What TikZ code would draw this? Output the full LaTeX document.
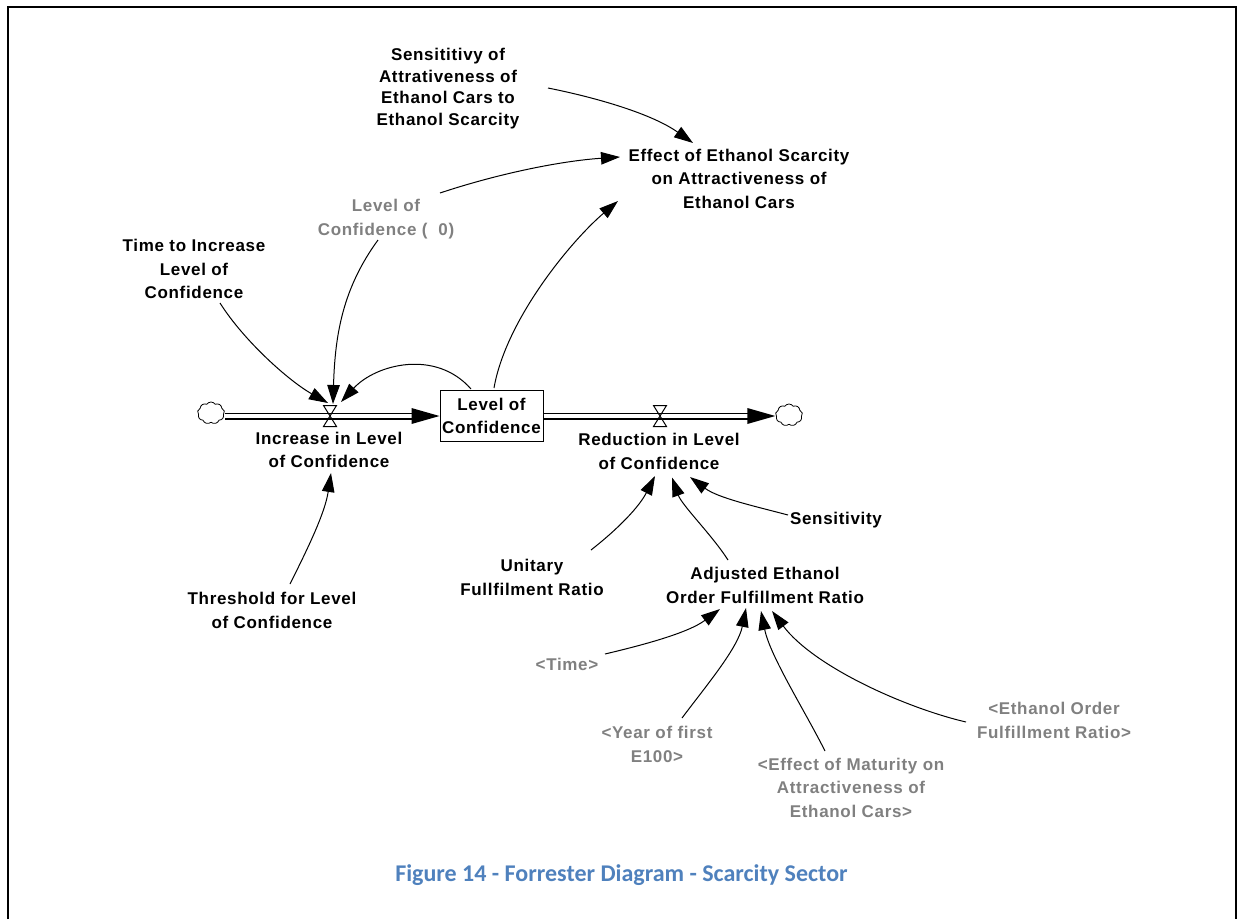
\documentclass[tikz,border=0pt]{standalone}
\usepackage{fontspec}
\usetikzlibrary{arrows.meta,shapes.symbols}
\newfontfamily\vfont{Liberation Sans}[LetterSpace=4]
\newfontfamily\capfont{Carlito}
\definecolor{vgray}{RGB}{128,128,128}
\definecolor{capblue}{RGB}{79,129,189}

\begin{document}
\begin{tikzpicture}[x=1pt,y=-1pt,
  var/.style={font=\vfont\bfseries\fontsize{17}{23.5}\selectfont, align=center, inner sep=0pt},
  gvar/.style={var, text=vgray},
  conn/.style={line width=1pt, -{Triangle[length=19pt,width=12.5pt]}},
  stockbox/.style={var, draw, line width=1pt, minimum width=103pt, minimum height=51pt},
  pipe/.style={double, double distance=4.8pt, line width=1.1pt},
  valve/.style={line width=1pt, line join=miter},
  source/.style={cloud, cloud puffs=9, cloud puff arc=110, draw, line width=0.8pt,
                 minimum width=27pt, minimum height=22pt, inner sep=0pt},
  frame/.style={line width=2.3pt}]

\useasboundingbox (0,0) rectangle (1237,919);

% open frame around the figure
\draw[frame] (8,919) -- (8,7) -- (1236,7) -- (1236,919);

% variables
\node[var, font=\vfont\bfseries\fontsize{17}{21.7}\selectfont] (sens) at (448,88.5)
  {Sensititivy of\\Attrativeness of\\Ethanol Cars to\\Ethanol Scarcity};
\node[var] (eff) at (739,178.5) {Effect of Ethanol Scarcity\\on Attractiveness of\\Ethanol Cars};
\node[gvar] (lc0) at (386,219) {Level of\\Confidence (\ \ 0)};
\node[var] (tinc) at (194,269) {Time to Increase\\Level of\\Confidence};
\node[stockbox] (stock) at (491.5,416) {Level of\\Confidence};
\node[var] (linc) at (329,450) {Increase in Level\\of Confidence};
\node[var] (lred) at (659,451.5) {Reduction in Level\\of Confidence};
\node[var] (sensy) at (836,520) {Sensitivity};
\node[var] (unit) at (532,577.5) {Unitary\\Fullfilment Ratio};
\node[var] (adj) at (765,585.5) {Adjusted Ethanol\\Order Fulfillment Ratio};
\node[var] (thr) at (272,610.5) {Threshold for Level\\of Confidence};
\node[gvar] (ttime) at (567,664) {<Time>};
\node[gvar] (year) at (657,744.5) {<Year of first\\E100>};
\node[gvar] (emat) at (851,787.5) {<Effect of Maturity on\\Attractiveness of\\Ethanol Cars>};
\node[gvar] (eord) at (1054,720.5) {<Ethanol Order\\Fulfillment Ratio>};

% sources / sinks
\node[source] (cl1) at (211,413) {};
\node[source] (cl2) at (789,415) {};

% flow pipes
\draw[pipe, shorten >=27pt] (cl1.east |- stock.west) -- (stock.west);
\fill ([shift={(-28,-8)}]stock.west) -- (stock.west) -- ([shift={(-28,8)}]stock.west) -- cycle;
\coordinate (pend) at (cl2.west |- stock.east);
\draw[pipe, shorten >=27pt] (stock.east) -- (pend);
\fill ([shift={(-28,-8)}]pend) -- (pend) -- ([shift={(-28,8)}]pend) -- cycle;

% valves
\coordinate (vin) at (330,416);
\coordinate (vout) at (660,416);
\foreach \v in {vin,vout}
  \draw[valve] ([shift={(-6.5,-10.5)}]\v) -- ([shift={(6.5,-10.5)}]\v)
    -- ([shift={(-6.5,10.5)}]\v) -- ([shift={(6.5,10.5)}]\v) -- cycle;

% causal links
\draw[conn] ([shift={(100,-0.5)}]sens.center) .. controls +(50,10) and +(-41,-29) .. ([shift={(-46,-35.5)}]eff.center);
\draw[conn] ([shift={(54,-26)}]lc0.center) .. controls +(57,-19) and +(-60,4) .. ([shift={(-119,-21.5)}]eff.center);
\draw[conn] ([shift={(2.5,-28)}]stock.center) .. controls +(12,-69) and +(-46,39) .. ([shift={(-121,22.5)}]eff.center);
\draw[conn] ([shift={(-20.5,-27)}]stock.center) .. controls +(-35,-40) and +(35,-38) .. ([shift={(11,-14)}]vin);
\draw[conn] ([shift={(-8,21)}]lc0.center) .. controls +(-35,48) and +(2,-70) .. ([shift={(3,-12)}]vin);
\draw[conn] ([shift={(26,34)}]tinc.center) .. controls +(24,38) and +(-39,-22) .. ([shift={(-2,-13)}]vin);
\draw[conn] ([shift={(18,-26.5)}]thr.center) .. controls +(18,-36) and +(-6,40) .. ([shift={(2,23)}]linc.center);
\draw[conn] ([shift={(59,-27.5)}]unit.center) .. controls +(28,-22) and +(-16,31) .. ([shift={(-4,24.5)}]lred.center);
\draw[conn] ([shift={(-37,-25.5)}]adj.center) .. controls +(-16,-25) and +(10,28) .. ([shift={(13,26)}]lred.center);
\draw[conn] ([shift={(-48,-5)}]sensy.center) .. controls +(-34,-9) and +(28,21) .. ([shift={(31,25.5)}]lred.center);
\draw[conn] ([shift={(38,-10)}]ttime.center) .. controls +(38,-9) and +(-32,24) .. ([shift={(-45,23.5)}]adj.center);
\draw[conn] ([shift={(25,-26.5)}]year.center) .. controls +(24,-32) and +(-8,40) .. ([shift={(-19,22.5)}]adj.center);
\draw[conn] ([shift={(-26,-36.5)}]emat.center) .. controls +(-20,-40) and +(9,45) .. ([shift={(-4,25.5)}]adj.center);
\draw[conn] ([shift={(-88,1.5)}]eord.center) .. controls +(-60,-14) and +(42,56) .. ([shift={(7,25.5)}]adj.center);

% caption
\node[font=\capfont\bfseries\fontsize{24}{28}\selectfont, text=capblue, anchor=base, inner sep=0pt]
  (caption) at (621.5,881) {Figure 14 - Forrester Diagram - Scarcity Sector};

\end{tikzpicture}
\end{document}
